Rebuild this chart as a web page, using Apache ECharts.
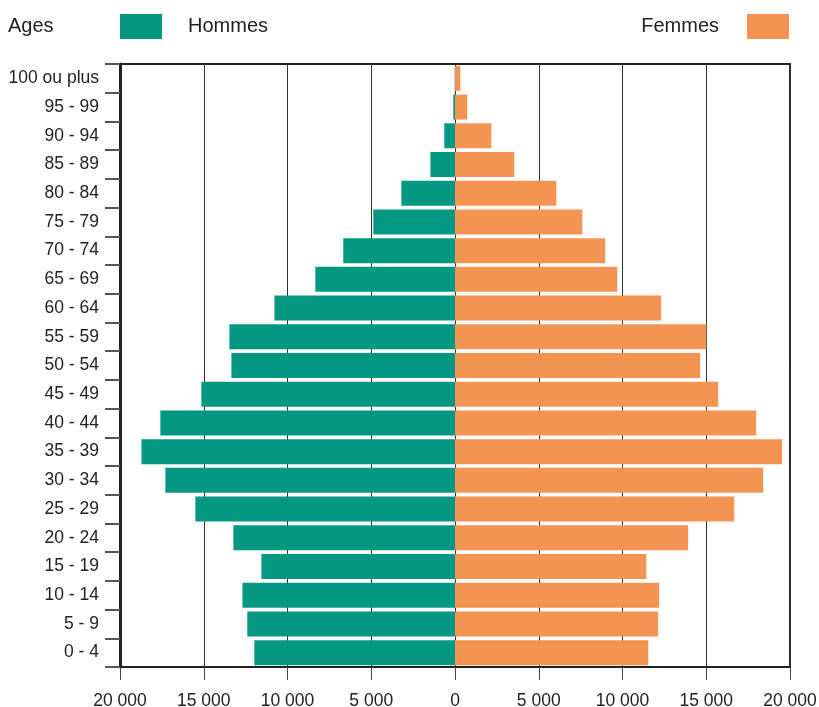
<!DOCTYPE html>
<html>
<head>
<meta charset="utf-8">
<script src="https://cdn.jsdelivr.net/npm/echarts@6/dist/echarts.min.js"></script>
<style>
html,body{margin:0;padding:0;background:#fff;}
#chart{width:819px;height:707px;}
</style>
</head>
<body>
<div id="chart"></div>
<script>
var ageGroups = ['0 - 4','5 - 9','10 - 14','15 - 19','20 - 24','25 - 29','30 - 34','35 - 39','40 - 44','45 - 49','50 - 54','55 - 59','60 - 64','65 - 69','70 - 74','75 - 79','80 - 84','85 - 89','90 - 94','95 - 99','100 ou plus'];
var hommes = [11980, 12400, 12690, 11560, 13230, 15500, 17290, 18720, 17590, 15140, 13350, 13470, 10780, 8340, 6670, 4880, 3200, 1470, 640, 100, 20];
var femmes = [11540, 12130, 12190, 11420, 13920, 16670, 18400, 19530, 17980, 15710, 14640, 15010, 12310, 9690, 8970, 7600, 6050, 3540, 2170, 730, 320];
var xTicks = {min: -20000, max: 20000, interval: 5000};

var FONT = "'Liberation Sans Narrow', 'Arial Narrow', 'Liberation Sans', Arial, sans-serif";
function fmt(v){
  var s = String(Math.abs(v));
  return s.replace(/\B(?=(\d{3})+(?!\d))/g, ' ');
}

var chart = echarts.init(document.getElementById('chart'), null, {renderer:'canvas'});
chart.setOption({
  animation: false,
  backgroundColor: '#fff',
  title: {
    text: 'Ages', left: 8, top: 16, padding: 0,
    textStyle: {fontFamily: FONT, fontSize: 20, fontWeight: 'normal', color: '#222'}
  },
  legend: [
    {
      data: ['Hommes'], left: 120, top: 14, itemWidth: 42, itemHeight: 25, padding: 0,
      icon: 'rect',
      textStyle: {fontFamily: FONT, fontSize: 20, color: '#222', padding: [0,0,0,21]}
    },
    {
      data: ['Femmes'], right: 30, top: 14, itemWidth: 42, itemHeight: 25, padding: 0,
      icon: 'rect', align: 'right',
      textStyle: {fontFamily: FONT, fontSize: 20, color: '#222', padding: [0,23,0,0]}
    }
  ],
  grid: {
    left: 120, right: 29, top: 64, bottom: 40,
    outerBoundsMode: 'none', containLabel: false,
    show: true, borderColor: '#222', borderWidth: 2, backgroundColor: 'transparent'
  },
  xAxis: {
    type: 'value', min: xTicks.min, max: xTicks.max, interval: xTicks.interval,
    axisLine: {show: true, onZero: false, lineStyle: {color: '#222', width: 2}},
    axisTick: {show: true, length: 13, lineStyle: {color: '#444', width: 1}},
    axisLabel: {
      formatter: fmt, margin: 25,
      fontFamily: FONT, fontSize: 17.5, color: '#222', showMinLabel: true, showMaxLabel: true
    },
    splitLine: {show: true, lineStyle: {color: '#333', width: 1}}
  },
  yAxis: {
    type: 'category', data: ageGroups,
    axisLine: {show: true, onZero: false, lineStyle: {color: '#222', width: 3}},
    axisTick: {show: true, length: 15, lineStyle: {color: '#555', width: 2}},
    axisLabel: {
      margin: 21, fontFamily: FONT, fontSize: 17.5, color: '#222',
      padding: [0,0,5,0], interval: 0
    },
    splitLine: {show: false}
  },
  series: [
    {
      name: 'Hommes', type: 'bar', stack: 'pop', barCategoryGap: '13%',
      itemStyle: {color: '#049883'},
      data: hommes.map(function(v){ return -v; })
    },
    {
      name: 'Femmes', type: 'bar', stack: 'pop', barCategoryGap: '13%',
      itemStyle: {color: '#F49453'},
      data: femmes
    }
  ]
});
</script>
</body>
</html>
